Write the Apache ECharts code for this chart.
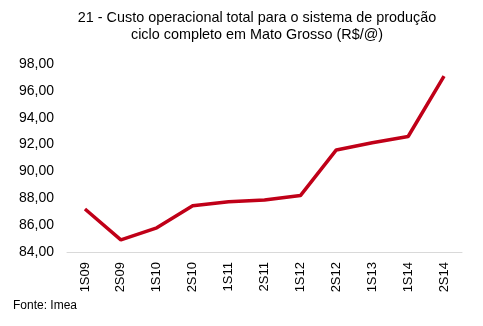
<!DOCTYPE html>
<html><head><meta charset="utf-8">
<script src="https://cdn.jsdelivr.net/npm/echarts@6/dist/echarts.min.js"></script>
<style>html,body{margin:0;padding:0;background:#fff}#c{width:483px;height:326px}</style>
</head><body><div id="c"></div>
<script>
const titleText = "21 - Custo operacional total para o sistema de produção\nciclo completo em Mato Grosso (R$/@)";
const sourceText = "Fonte: Imea";
const categories = ["1S09","2S09","1S10","2S10","1S11","2S11","1S12","2S12","1S13","1S14","2S14"];
const values = [87.2, 84.9, 85.8, 87.45, 87.75, 87.87, 88.2, 91.6, 92.14, 92.6, 97.1];
const yMin = 84, yMax = 98, yStep = 2;

const font = "'Liberation Sans', Arial, Helvetica, sans-serif";
const chart = echarts.init(document.getElementById('c'), null, {renderer:'canvas'});
chart.setOption({
  animation: false,
  backgroundColor: '#ffffff',
  grid: {left: 67, right: 21, top: 64, bottom: 74, containLabel: false},
  graphic: [
    {type:'text', x: 257, y: 10, style:{text: titleText, x:0, y:0, textAlign:'center', fill:'#000', font: "14.4px " + font, lineHeight: 17}},
    {type:'text', x: 13, y: 300, style:{text: sourceText, fill:'#000', font: "12px " + font}}
  ],
  xAxis: {
    type: 'category', data: categories, boundaryGap: true,
    axisLine: {show: true, lineStyle: {color: '#d9d9d9', width: 1}},
    axisTick: {show: false},
    axisLabel: {rotate: 90, color: '#000', fontSize: 13, fontFamily: font, margin: 10, interval: 0}
  },
  yAxis: {
    type: 'value', min: yMin, max: yMax, interval: yStep,
    axisLine: {show: false}, axisTick: {show: false}, splitLine: {show: false},
    axisLabel: {color: '#000', fontSize: 14, fontFamily: font, margin: 13,
      formatter: v => v.toFixed(2).replace('.', ',')}
  },
  series: [{
    type: 'line', data: values, symbol: 'none', smooth: false,
    lineStyle: {color: '#c00018', width: 3.5}
  }]
});
</script></body></html>
